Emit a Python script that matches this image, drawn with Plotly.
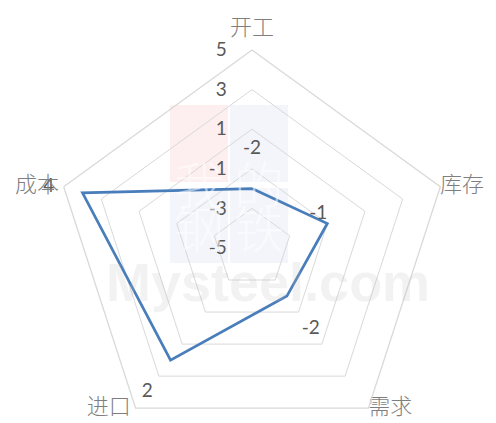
import plotly.graph_objects as go

# ---------------------------------------------------------------------------
# Data
# ---------------------------------------------------------------------------
categories = ["开工", "库存", "需求", "进口", "成本"]
values = [-2, -1, -2, 2, 4]
data_labels = ["-2", "-1", "-2", "2", "4"]
radial_ticks = [-5, -3, -1, 1, 3, 5]

R_MIN, R_MAX = -5, 5   # radial scale of the chart

# plotly hides text points when a polygon polar has a negative radial range,
# so the radial axis is offset to start at 0 and relabelled with real values
def to_r(v):
    return v - R_MIN

# label placement (outward shift in radial units, anchor, trailing pad)
label_shift = [2.0, 0.0, 2.05, 2.0, 2.0]
label_pos = ["middle center", "top left", "middle center", "middle center", "middle left"]
label_pad = [0, 0, 0, 0, 2]

# top category uses the angular axis label, the rest are text points on the rim
cat_pos = ["top center", "middle right", "middle right", "middle left", "middle left"]
cat_pad = [0, 0, 0, 1, 1]

LINE_BLUE = "#4a7ebb"
GRID = "#d9d9d9"
TICK_GREY = "#595959"
CAT_GREY = "#7f7f7f"
EDGE = to_r(R_MAX) - 0.01
NBSP = "\u00a0"

fig = go.Figure()

# closed outline
fig.add_trace(go.Scatterpolar(
    r=[to_r(v) for v in values + values[:1]],
    theta=categories + categories[:1],
    mode="lines",
    line=dict(color=LINE_BLUE, width=2.75),
    hoverinfo="skip",
    showlegend=False,
))

# data labels
fig.add_trace(go.Scatterpolar(
    r=[min(to_r(v + s), EDGE) for v, s in zip(values, label_shift)],
    theta=categories,
    mode="text",
    text=[t + NBSP * p for t, p in zip(data_labels, label_pad)],
    textposition=label_pos,
    textfont=dict(family="Lato, Liberation Sans", size=19, color=TICK_GREY),
    cliponaxis=False,
    hoverinfo="skip",
    showlegend=False,
))

# category labels at the outer ring (all but the top one)
fig.add_trace(go.Scatterpolar(
    r=[EDGE] * (len(categories) - 1),
    theta=categories[1:],
    mode="text",
    text=[c + NBSP * p for c, p in zip(categories[1:], cat_pad[1:])],
    textposition=cat_pos[1:],
    textfont=dict(family="Noto Sans CJK SC", size=22, color=CAT_GREY, weight=300),
    cliponaxis=False,
    hoverinfo="skip",
    showlegend=False,
))

# ---------------------------------------------------------------------------
# Watermark (faint "我的钢铁 Mysteel.com")
# ---------------------------------------------------------------------------
wm_boxes = [
    ("我", 170, 228, 105, 182, "rgba(235,120,120,0.12)"),
    ("的", 230, 288, 105, 182, "rgba(120,140,200,0.09)"),
    ("钢", 170, 228, 188, 263, "rgba(120,140,200,0.09)"),
    ("铁", 230, 288, 188, 263, "rgba(120,140,200,0.09)"),
]
H = 446
for ch, x0, x1, y0, y1, col in wm_boxes:
    fig.add_shape(type="rect", xref="paper", yref="paper",
                  x0=(x0 - 54) / 396, x1=(x1 - 54) / 396,
                  y0=(H - y1) / (H - 50), y1=(H - y0) / (H - 50),
                  fillcolor=col, line_width=0, layer="below")
    fig.add_annotation(text=ch, xref="paper", yref="paper",
                       x=((x0 + x1) / 2 - 54) / 396, y=(H - (y0 + y1) / 2) / (H - 50),
                       showarrow=False,
                       font=dict(family="Noto Sans CJK SC", size=50, color="rgba(255,255,255,0.5)",
                                 weight=300))

fig.add_annotation(text="Mysteel.com", xref="paper", yref="paper",
                   x=(268 - 54) / 396, y=(H - 282) / (H - 50), showarrow=False,
                   font=dict(family="Liberation Sans Narrow, Liberation Sans", size=54,
                             color="rgba(190,190,190,0.2)", weight="bold"))

fig.update_layout(
    width=496,
    height=H,
    margin=dict(l=54, r=46, t=50, b=0),
    paper_bgcolor="white",
    plot_bgcolor="white",
    showlegend=False,
    polar=dict(
        bgcolor="rgba(0,0,0,0)",
        gridshape="linear",
        radialaxis=dict(
            range=[to_r(R_MIN), to_r(R_MAX)],
            tickvals=[to_r(t) for t in radial_ticks],
            ticktext=[str(t) for t in radial_ticks],
            angle=90,
            side="counterclockwise",
            tickangle=90,
            showline=False,
            ticks="outside",
            ticklen=18,
            tickcolor="rgba(0,0,0,0)",
            gridcolor=GRID,
            gridwidth=1.3,
            tickfont=dict(family="Lato, Liberation Sans", size=19, color=TICK_GREY),
        ),
        angularaxis=dict(
            categoryarray=categories,
            rotation=90,
            direction="clockwise",
            showgrid=False,
            tickvals=categories,
            ticktext=categories[:1] + [""] * (len(categories) - 1),
            ticks="outside",
            ticklen=6,
            tickcolor="rgba(0,0,0,0)",
            tickfont=dict(family="Noto Sans CJK SC", size=22, color=CAT_GREY, weight=300),
            linecolor=GRID,
            linewidth=1.3,
        ),
    ),
)

fig.write_html("out.html", config={"displayModeBar": False},
               post_script="document.body.style.overflow='hidden';document.body.style.margin='0';")
